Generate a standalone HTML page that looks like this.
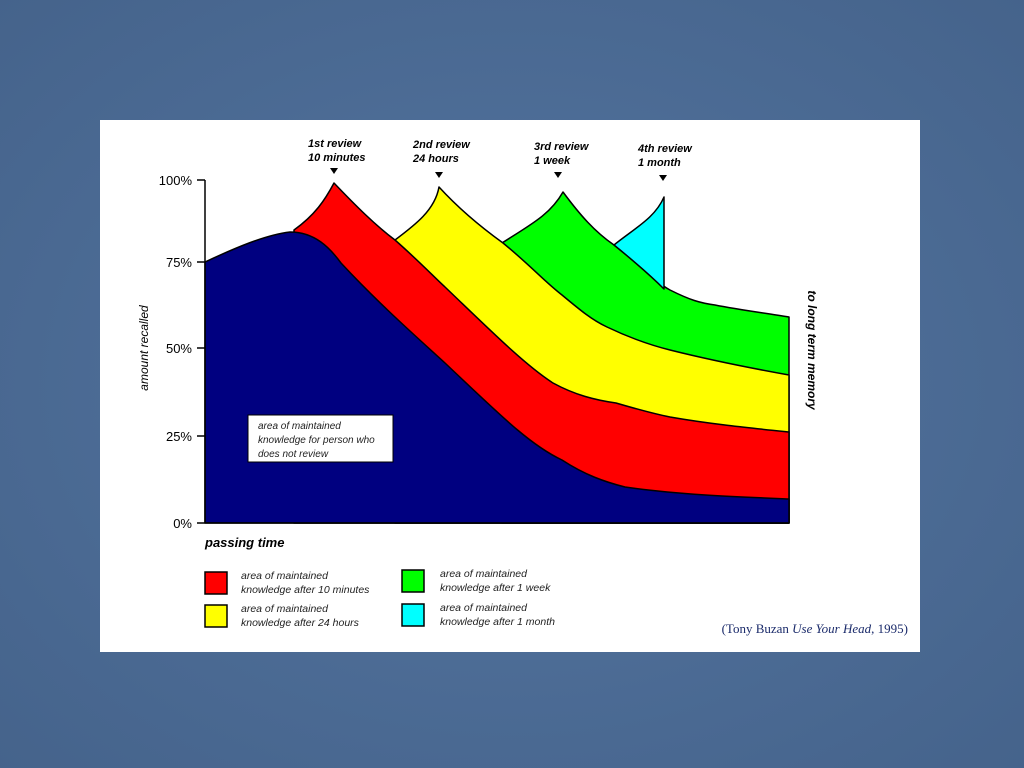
<!DOCTYPE html>
<html><head><meta charset="utf-8"><style>
html,body{margin:0;padding:0;width:1024px;height:768px;overflow:hidden;background:#4d6d96;}
</style></head><body>
<svg width="1024" height="768" xmlns="http://www.w3.org/2000/svg" font-family="Liberation Sans, sans-serif">
<defs>
<radialGradient id="bg" cx="50%" cy="50%" r="75%"><stop offset="0" stop-color="#5475a0"/><stop offset="1" stop-color="#44628a"/></radialGradient>
</defs>
<rect width="1024" height="768" fill="url(#bg)"/>
<rect x="100" y="120" width="820" height="532" fill="#fff"/>
<g stroke="#000" stroke-width="1.5" stroke-linejoin="round">
<!-- green -->
<path d="M502,243 C530,225 550,215 563,192 C580,215 595,232 614,245 C640,265 655,282 670,290 C690,300 700,303 715,305 C740,310 765,313 789,317 L789,523 L502,523 Z" fill="#00ff00"/>
<!-- cyan -->
<path d="M614,245 C635,228 655,218 664,197 L664,289 C650,275 630,258 614,245 Z" fill="#00ffff"/>
<!-- yellow -->
<path d="M395,240 C415,225 435,210 439,187 C460,210 485,230 503,243 C530,265 545,282 562,295 C580,310 592,320 607,327 C630,338 650,345 670,350 C710,360 750,368 789,375 L789,523 L395,523 Z" fill="#ffff00"/>
<!-- red -->
<path d="M294,230 C315,215 325,200 334,183 C355,205 375,225 395,240 C420,262 435,278 445,287 C490,330 525,365 553,383 C575,395 595,400 616,403 C640,410 655,414 670,417 C710,424 750,428 789,432 L789,523 L294,523 Z" fill="#ff0000"/>
<!-- blue -->
<path d="M205,262 C235,248 265,235 290,232 C315,232 330,248 341,263 C380,305 420,340 445,363 C500,415 530,445 562,460 C585,475 605,482 625,487 C680,495 740,497 789,499 L789,523 L205,523 Z" fill="#000080"/>
</g>
<!-- axis -->
<g stroke="#000" stroke-width="1.5">
<line x1="205" y1="180" x2="205" y2="523"/>
<line x1="197" y1="523" x2="789" y2="523"/>
<line x1="197" y1="180" x2="205" y2="180"/>
<line x1="197" y1="262" x2="205" y2="262"/>
<line x1="197" y1="348" x2="205" y2="348"/>
<line x1="197" y1="436" x2="205" y2="436"/>
</g>
<g font-size="13" text-anchor="end" fill="#000">
<text x="192" y="185">100%</text>
<text x="192" y="267">75%</text>
<text x="192" y="353">50%</text>
<text x="192" y="441">25%</text>
<text x="192" y="528">0%</text>
</g>
<text transform="translate(148,348) rotate(-90)" font-size="12" font-style="italic" text-anchor="middle">amount recalled</text>
<text transform="translate(808,350) rotate(90)" font-size="12" font-style="italic" font-weight="bold" text-anchor="middle">to long term memory</text>
<text x="205" y="547" font-size="13" font-style="italic" font-weight="bold">passing time</text>
<g font-size="11" font-style="italic" font-weight="bold" fill="#000">
<text x="308" y="147">1st review</text><text x="308" y="161">10 minutes</text>
<text x="413" y="148">2nd review</text><text x="413" y="162">24 hours</text>
<text x="534" y="150">3rd review</text><text x="534" y="164">1 week</text>
<text x="638" y="152">4th review</text><text x="638" y="166">1 month</text>
</g>
<g fill="#000">
<path d="M330,168 L338,168 L334,174 Z"/>
<path d="M435,172 L443,172 L439,178 Z"/>
<path d="M554,172 L562,172 L558,178 Z"/>
<path d="M659,175 L667,175 L663,181 Z"/>
</g>
<rect x="248" y="415" width="145" height="47" fill="#fff" stroke="#000" stroke-width="1"/>
<g font-size="10" font-style="italic" fill="#222">
<text x="258" y="429">area of maintained</text>
<text x="258" y="443">knowledge for person who</text>
<text x="258" y="457">does not review</text>
</g>
<!-- legend -->
<g stroke="#000" stroke-width="1.5">
<rect x="205" y="572" width="22" height="22" fill="#ff0000"/>
<rect x="205" y="605" width="22" height="22" fill="#ffff00"/>
<rect x="402" y="570" width="22" height="22" fill="#00ff00"/>
<rect x="402" y="604" width="22" height="22" fill="#00ffff"/>
</g>
<g font-size="10.5" font-style="italic" fill="#222">
<text x="241" y="579">area of maintained</text><text x="241" y="593">knowledge after 10 minutes</text>
<text x="241" y="612">area of maintained</text><text x="241" y="626">knowledge after 24 hours</text>
<text x="440" y="577">area of maintained</text><text x="440" y="591">knowledge after 1 week</text>
<text x="440" y="611">area of maintained</text><text x="440" y="625">knowledge after 1 month</text>
</g>
<text x="908" y="633" font-family="Liberation Serif, serif" font-size="13" fill="#1a2a6a" text-anchor="end">(Tony Buzan <tspan font-style="italic">Use Your Head</tspan>, 1995)</text>
</svg>
</body></html>
